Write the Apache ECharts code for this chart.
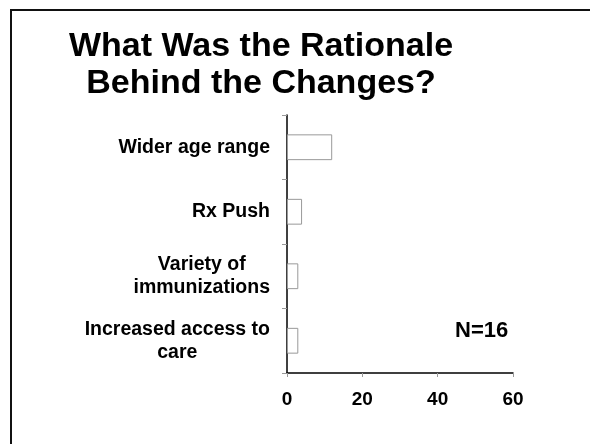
<!DOCTYPE html>
<html>
<head>
<meta charset="utf-8">
<script src="https://cdn.jsdelivr.net/npm/echarts@6/dist/echarts.min.js"></script>
<style>
html,body{margin:0;padding:0;background:#fff;}
#c{width:590px;height:444px;}
</style>
</head>
<body>
<div id="c"></div>
<script>
// Data (bottom-to-top order for category axis)
var categories = ['Increased access to\ncare', 'Variety of\nimmunizations', 'Rx Push', 'Wider age range'];
var values = [3, 3, 4, 12];
var xTicks = [0, 20, 40, 60];
var titleText = 'What Was the Rationale\nBehind the Changes?';
var noteText = 'N=16';

var FONT = '"Liberation Sans", Arial, Helvetica, sans-serif';
var chart = echarts.init(document.getElementById('c'), null, {renderer: 'canvas'});

chart.setOption({
  backgroundColor: '#ffffff',
  animation: false,
  title: {
    text: titleText,
    left: 261,
    textAlign: 'center',
    top: 28,
    padding: 0,
    textStyle: {
      fontFamily: FONT,
      fontWeight: 'bold',
      fontSize: 34,
      lineHeight: 37,
      color: '#000'
    }
  },
  grid: {left: 287, right: 77, top: 115, bottom: 71, containLabel: false},
  xAxis: {
    type: 'value',
    min: xTicks[0],
    max: xTicks[xTicks.length - 1],
    interval: 20,
    splitLine: {show: false},
    axisLine: {show: true, lineStyle: {color: '#000', width: 1.5}},
    axisTick: {show: true, length: 4, lineStyle: {color: '#999'}},
    axisLabel: {
      margin: 17,
      fontFamily: FONT,
      fontWeight: 'bold',
      fontSize: 19,
      color: '#000'
    }
  },
  yAxis: {
    type: 'category',
    data: categories,
    axisLine: {show: true, lineStyle: {color: '#000', width: 1.5}},
    axisTick: {show: true, length: 5, alignWithLabel: false, lineStyle: {color: '#999'}},
    axisLabel: {
      margin: 17,
      align: 'right',
      fontFamily: FONT,
      fontWeight: 'bold',
      fontSize: 19.5,
      lineHeight: 23,
      color: '#000',
      formatter: function (v) {
        return v.split('\n').map(function (s) { return '{c|' + s + '}'; }).join('\n');
      },
      rich: {
        c: {
          align: 'center',
          fontFamily: FONT,
          fontWeight: 'bold',
          fontSize: 19.5,
          lineHeight: 23,
          color: '#000'
        }
      }
    }
  },
  series: [{
    type: 'bar',
    data: values,
    barWidth: '40%',
    itemStyle: {color: '#ffffff', borderColor: '#999999', borderWidth: 1}
  }],
  graphic: [
    {
      type: 'rect',
      shape: {x: 11, y: 10, width: 620, height: 480},
      style: {fill: 'none', stroke: '#111', lineWidth: 2},
      silent: true
    },
    {
      type: 'text',
      left: 455,
      top: 320,
      style: {
        text: noteText,
        fontFamily: FONT,
        fontWeight: 'bold',
        fontSize: 22,
        fill: '#000'
      }
    }
  ]
});
</script>
</body>
</html>
